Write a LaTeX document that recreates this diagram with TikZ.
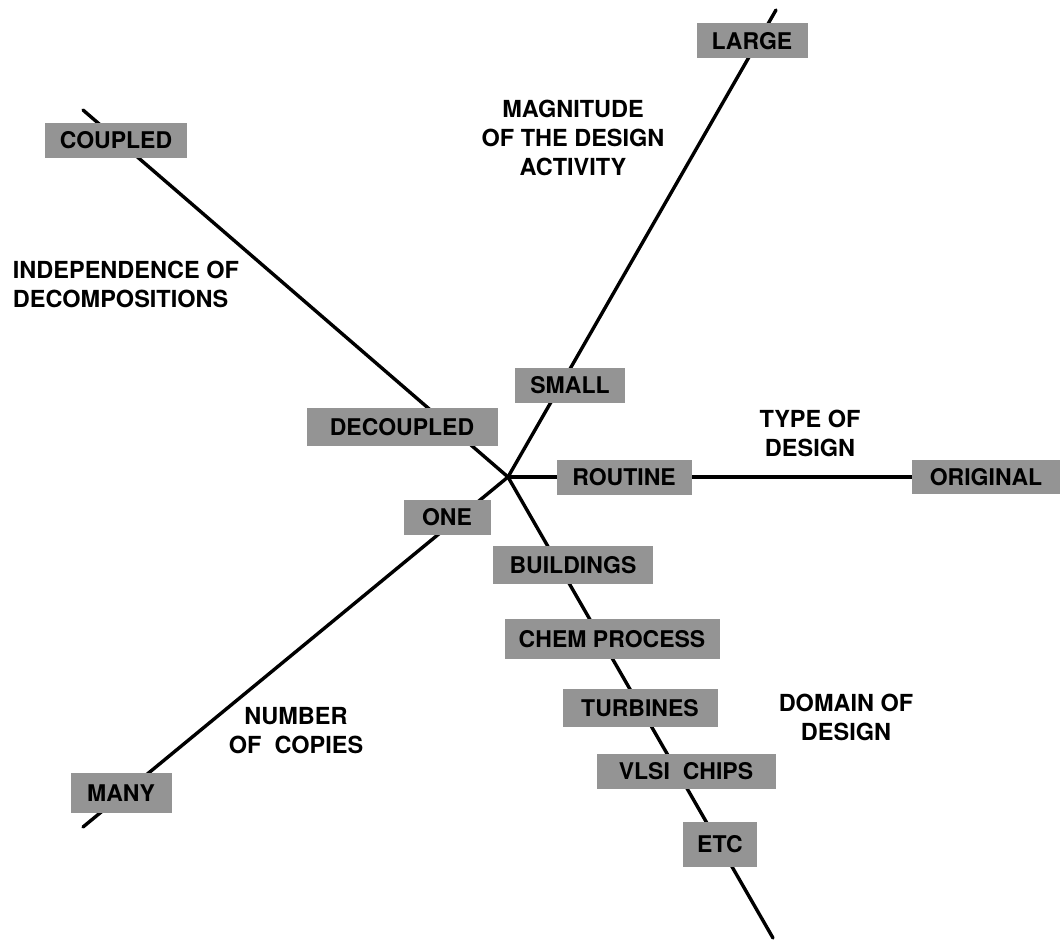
\documentclass[tikz,border=0pt]{standalone}
\usepackage{fontspec}
\setmainfont{TeX Gyre Heros}
\usetikzlibrary{backgrounds}
\tikzset{
  axisline/.style={line width=3.4pt, black, line cap=round},
  valbox/.style={fill=black!42, inner sep=0pt, minimum height=35pt,
    font=\fontsize{23}{28}\selectfont\bfseries, text=black},
  axlabel/.style={font=\fontsize{23.5}{29}\selectfont\bfseries, align=center, inner sep=0pt},
}
\begin{document}
\begin{tikzpicture}[x=1pt,y=-1pt]
\useasboundingbox (0,0) rectangle (1060,942);
% end points of the axes
\coordinate (c) at (508,477);
\coordinate (topL) at (776,10);
\coordinate (topC) at (83,110);
\coordinate (botM) at (83,827);
\coordinate (botD) at (773,938);
% value boxes
\node[valbox, minimum width=111pt] (large) at (752,41) {LARGE};
\node[valbox, minimum width=110pt] (small) at (570,385) {SMALL};
\node[valbox, minimum width=142pt] (coupled) at (116,140) {COUPLED};
\node[valbox, minimum width=191pt, minimum height=38pt] (decoupled) at (402,427) {DECOUPLED};
\node[valbox, minimum width=87pt] (one) at (447,517) {ONE};
\node[valbox, minimum width=101pt, minimum height=40pt] (many) at (121,793) {MANY};
\node[valbox, minimum width=135pt] (routine) at (624,477) {ROUTINE};
\node[valbox, minimum width=148pt, minimum height=34pt] (original) at (986,477) {ORIGINAL};
\node[valbox, minimum width=160pt, minimum height=38pt] (buildings) at (573,565) {BUILDINGS};
\node[valbox, minimum width=215pt, minimum height=40pt] (chem) at (612,639) {CHEM PROCESS};
\node[valbox, minimum width=155pt, minimum height=38pt] (turbines) at (640,708) {TURBINES};
\node[valbox, minimum width=179pt] (vlsi) at (686,771) {VLSI\ \ CHIPS};
\node[valbox, minimum width=74pt, minimum height=45pt] (etc) at (720,844) {ETC};
% axis labels
\node[axlabel] (magnitude) at (573,138) {MAGNITUDE\\OF THE DESIGN\\ACTIVITY};
\node[axlabel, align=left] (independence) at (126,284) {INDEPENDENCE OF\\DECOMPOSITIONS};
\node[axlabel] (type) at (810,433) {TYPE OF\\DESIGN};
\node[axlabel] (domain) at (846,717) {DOMAIN OF\\DESIGN};
\node[axlabel] (number) at (296,731) {NUMBER\\OF\ \ COPIES};
% axes, behind the boxes
\begin{pgfonlayer}{background}
\draw[axisline] (topC) -- (c);
\draw[axisline] (c) -- (topL);
\draw[axisline] (c) -- (botM);
\draw[axisline] (c) -- (original.west);
\draw[axisline] (c) -- (botD);
\end{pgfonlayer}
\end{tikzpicture}
\end{document}
